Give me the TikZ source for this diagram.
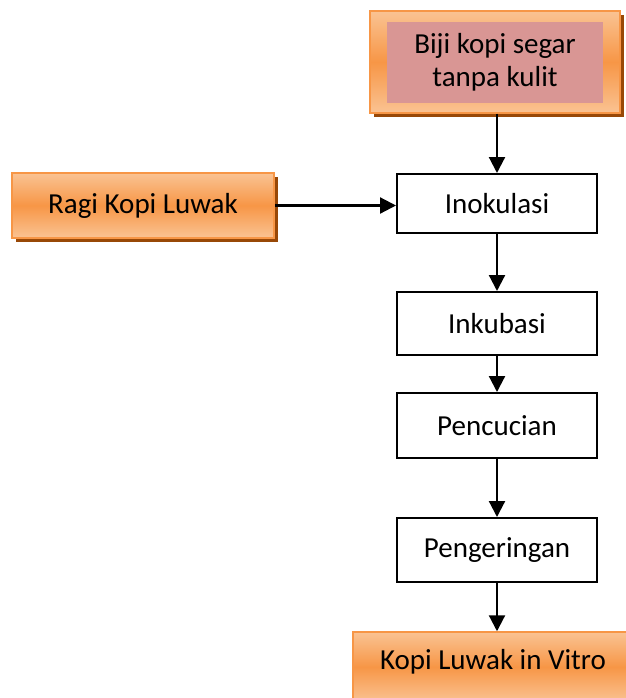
\documentclass[tikz,border=0pt]{standalone}
\usepackage{fontspec}
\setmainfont{Carlito}
\usetikzlibrary{arrows.meta,positioning}
\definecolor{orA}{HTML}{F79646}
\definecolor{orL}{HTML}{FAC393}
\definecolor{shd}{HTML}{984807}
\definecolor{pnk}{HTML}{D99694}
\tikzset{
  stepbox/.style={draw=black, line width=2pt, fill=white, minimum width=200pt, inner sep=0pt, font=\fontsize{29}{34}\selectfont},
  orbox/.style={draw=orA, line width=1.5pt, top color=orL, bottom color=orL, middle color=orA, inner sep=0pt, font=\fontsize{29}{34}\selectfont},
  arr/.style={line width=2.2pt, -{Triangle[length=16pt,width=16pt]}},
}
\begin{document}
\begin{tikzpicture}[x=1pt,y=-1pt]
\useasboundingbox (0,0) rectangle (625,698);
% shadows
\fill[shd] (374,15) rectangle (624,117);
\fill[shd] (16,177) rectangle (278,242);
% top box
\node[orbox, minimum width=250pt, minimum height=102pt] (top) at (495,62) {};
\node[fill=pnk, minimum width=216pt, minimum height=81pt, inner sep=0pt, align=center, font=\fontsize{29}{33}\selectfont] (topin) at (495,62.5) {Biji kopi segar\\tanpa kulit};
% ragi
\node[orbox, minimum width=262pt, minimum height=65pt] (ragi) at (143,205.5) {Ragi Kopi Luwak};
% steps
\node[stepbox, minimum height=59pt] (ino) at (497,203.5) {Inokulasi};
\node[stepbox, minimum height=63pt] (ink) at (497,323.5) {Inkubasi};
\node[stepbox, minimum height=65pt] (pen) at (497,425.5) {Pencucian};
\node[stepbox, minimum height=64pt] (ker) at (497,550) {Pengeringan};
% final
\node[orbox, minimum width=276pt, minimum height=70pt] (fin) at (491,667) {};
\node[font=\fontsize{29}{34}\selectfont, inner sep=0pt] (fint) at (493,662) {Kopi Luwak in Vitro};
% arrows
\draw[arr] (top.south -| ino.north) -- (ino.north);
\draw[arr] (ragi.east) -- (ragi.east -| ino.west);
\draw[arr] (ino.south) -- (ink.north);
\draw[arr] (ink.south) -- (pen.north);
\draw[arr] (pen.south) -- (ker.north);
\draw[arr] (ker.south) -- (ker.south |- fin.north);
\end{tikzpicture}
\end{document}
